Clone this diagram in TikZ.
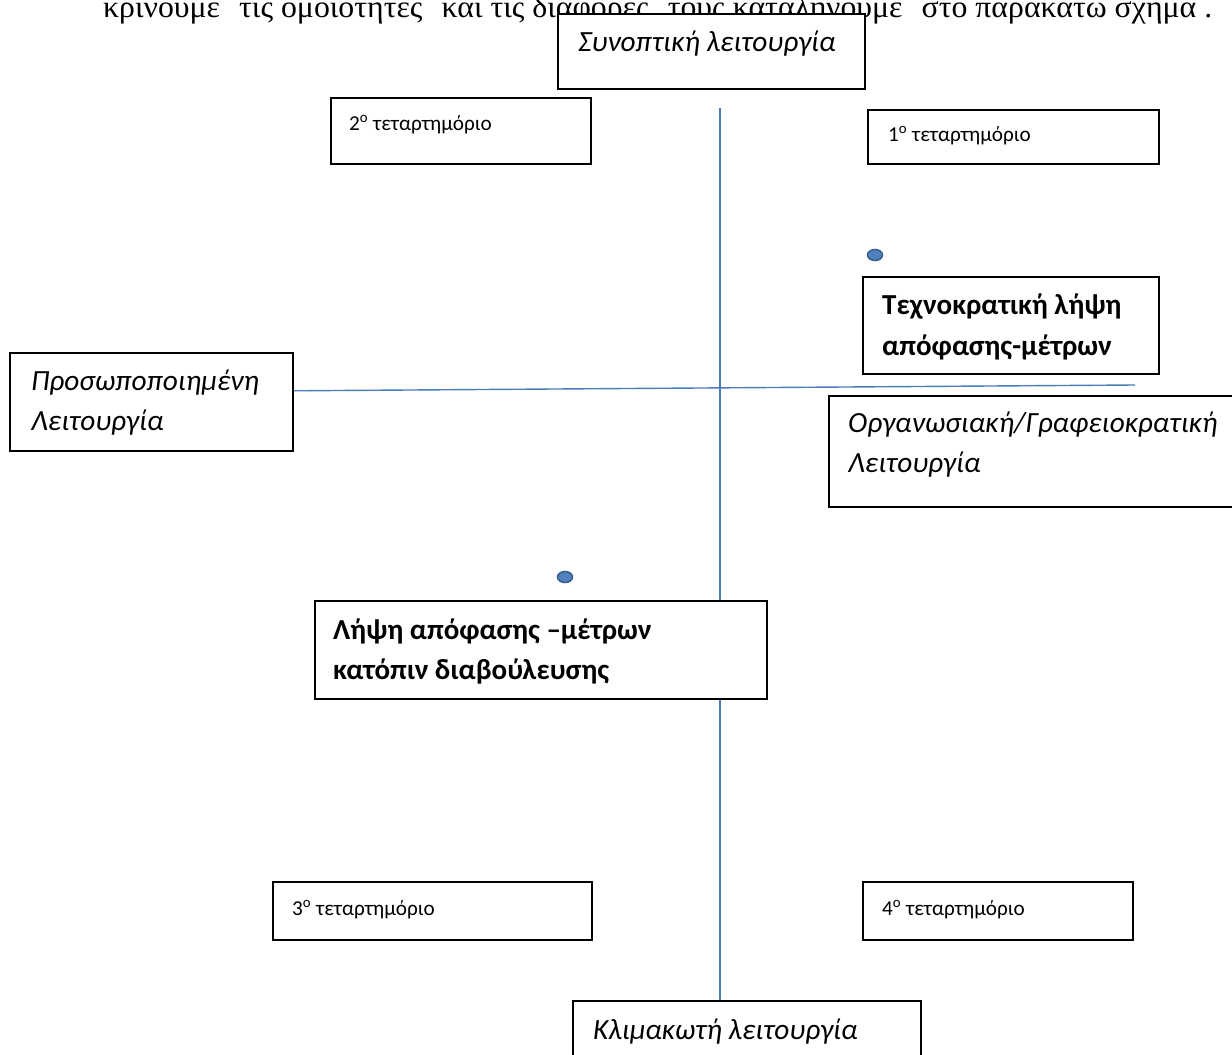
\documentclass[tikz,border=0pt]{standalone}
\usepackage{fontspec}
\setmainfont{Carlito}
\newfontfamily\serifgr{Liberation Serif}
\usetikzlibrary{shapes.geometric}
\definecolor{axisblue}{HTML}{4A7EBB}
\definecolor{dotfill}{HTML}{4F81BD}
\definecolor{dotline}{HTML}{385D8A}
\newsavebox\introbox
\begin{document}
\sbox\introbox{\serifgr\fontsize{31}{36}\selectfont κρίνουμε\hspace{0.35em} τις ομοιότητες\hspace{0.35em} και τις διαφορές\hspace{0.35em} τους καταλήγουμε\hspace{0.35em} στο παρακάτω σχήμα .}%
\begin{tikzpicture}[x=1pt,y=-1pt,
  box/.style={draw=black,line width=1.6pt,fill=white,rectangle,inner sep=0pt,anchor=north west},
  txt/.style={anchor=base west,inner sep=0pt},
  big/.style={txt,font=\fontsize{29.3}{34}\selectfont\itshape},
  bold/.style={txt,font=\fontsize{29}{34}\selectfont\bfseries},
  small/.style={txt,font=\fontsize{21.2}{25}\selectfont},
  axis/.style={draw=axisblue,line width=1.4pt},
  dot/.style={ellipse,fill=dotfill,draw=dotline,line width=1.5pt,minimum width=15pt,minimum height=11pt,inner sep=0pt}]
\useasboundingbox (0,0) rectangle (1232,1055);
\clip (0,0) rectangle (1232,1055);
\fill[white] (0,0) rectangle (1232,1055);
% intro text
\node[txt] (intro) at (103,17) {\resizebox{1109pt}{\height}{\usebox\introbox}};
% boxes used as anchors for the axes
\node[box,minimum width=348pt,minimum height=70pt] (klim) at (572,1000) {};
\node[box,minimum width=283pt,minimum height=98pt] (pros) at (9,352) {};
% axes
\coordinate (vtop) at (720,108);
\coordinate (hend) at (1135,385);
\draw[axis] (vtop) -- (vtop |- klim.north);
\draw[axis] ([yshift=11pt]pros.east) -- (hend);
% boxes and texts over the axes
\node[box,minimum width=307pt,minimum height=75pt] (syn) at (557,13) {};
\node[big] (synT) at (578,51) {Συνοπτική λειτουργία};
\node[box,minimum width=348pt,minimum height=70pt] (klim) at (572,1000) {};
\node[big] (klimT) at (593,1039) {Κλιμακωτή λειτουργία};
\node[box,minimum width=283pt,minimum height=98pt] (pros) at (9,352) {};
\node[big] (prosA) at (31,390) {Προσωποποιημένη};
\node[big] (prosB) at (31,430) {Λειτουργία};
\node[box,minimum width=260pt,minimum height=66pt] (q2) at (330,97) {};
\node[small] (q2T) at (349,130) {2\textsuperscript{o} τεταρτημόριο};
\node[box,minimum width=291pt,minimum height=54pt] (q1) at (867,109) {};
\node[small] (q1T) at (888,141) {1\textsuperscript{o} τεταρτημόριο};
\node[box,minimum width=319pt,minimum height=58pt] (q3) at (272,881) {};
\node[small] (q3T) at (292,915) {3\textsuperscript{o} τεταρτημόριο};
\node[box,minimum width=270pt,minimum height=58pt] (q4) at (862,881) {};
\node[small] (q4T) at (882,915) {4\textsuperscript{o} τεταρτημόριο};
\node[box,minimum width=296pt,minimum height=97pt] (tech) at (862,276) {};
\node[bold] (techA) at (882,314) {Τεχνοκρατική λήψη};
\node[bold] (techB) at (882,355) {απόφασης-μέτρων};
\node[box,minimum width=420pt,minimum height=111pt] (org) at (828,395) {};
\node[big] (orgA) at (848,432) {Οργανωσιακή/Γραφειοκρατική};
\node[big] (orgB) at (848,472) {Λειτουργία};
\node[box,minimum width=452pt,minimum height=98pt] (lip) at (314,600) {};
\node[bold] (lipA) at (333,639) {Λήψη απόφασης –μέτρων};
\node[bold] (lipB) at (333,679) {κατόπιν διαβούλευσης};
% dots
\node[dot] (dotA) at (875,255) {};
\node[dot] (dotB) at (565,577) {};
\end{tikzpicture}
\end{document}
